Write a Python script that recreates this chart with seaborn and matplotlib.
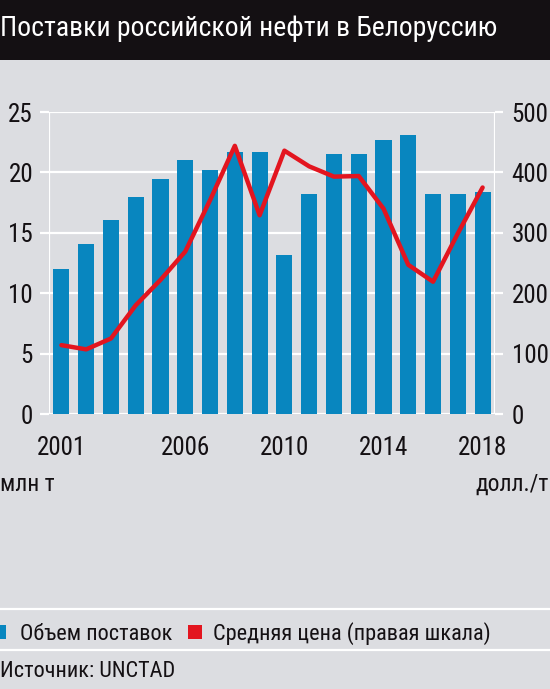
import matplotlib
matplotlib.use("Agg")
import matplotlib.pyplot as plt
import seaborn as sns
import numpy as np
import pandas as pd
from matplotlib import font_manager as fm

# ---- data ----
years = list(range(2001, 2019))
volume = [12.0, 14.1, 16.05, 17.95, 19.45, 21.05, 20.2, 21.7, 21.7, 13.15,
          18.25, 21.5, 21.5, 22.7, 23.1, 18.25, 18.25, 18.35]
price = [114, 107, 125, 180, 222, 269, 354, 444, 329, 436,
         410, 393, 394, 340, 247, 219, 299, 375]
shown_years = [2001, 2006, 2010, 2014, 2018]
left_ticks = [0, 5, 10, 15, 20, 25]
right_ticks = [0, 100, 200, 300, 400, 500]

title = "Поставки российской нефти в Белоруссию"
left_unit = "млн т"
right_unit = "долл./т"
legend_labels = ["Объем поставок", "Средняя цена (правая шкала)"]
source = "Источник: UNCTAD"

BG = "#dcdde1"
BLUE = "#0886bf"
RED = "#e3151f"
DARK = "#141013"

sns.set_theme(style="white")

# find a condensed font with Cyrillic support
prefs = ["robotocondensed-regular", "liberationsansnarrow-regular",
         "notosans-condensed.ttf", "notosans-condensed-regular", "dejavusanscondensed.ttf",
         "opensans_condensed-regular", "opensans-condensed"]
cands = {}
for f in fm.fontManager.ttflist:
    base = f.fname.replace("\\", "/").split("/")[-1].lower()
    cands.setdefault(base, f)
chosen = None
for p in prefs:
    for base, f in cands.items():
        if base.startswith(p):
            chosen = f
            break
    if chosen:
        break
if chosen is not None:
    fm.fontManager.addfont(chosen.fname)
    FP = fm.FontProperties(fname=chosen.fname)
    scale = 1.0
else:
    FP = fm.FontProperties(family="Roboto")
    scale = 0.85
plt.rcParams["font.family"] = [FP.get_name(), "DejaVu Sans"]


def fp(size):
    p = FP.copy()
    p.set_size(size * scale)
    return p


W, H = 550, 689
fig = plt.figure(figsize=(W / 100, H / 100), dpi=100, facecolor=BG)

L, R, B, T = 49, 495, 414, 112
ax = fig.add_axes([L / W, 1 - B / H, (R - L) / W, (B - T) / H])
ax.set_facecolor(BG)

df = pd.DataFrame({"year": [str(y) for y in years], "volume": volume, "price": price})

ax.set_ylim(0, 25)
ax.set_yticks(left_ticks)
for v in left_ticks:
    ax.axhline(v, color="white", lw=1.6, zorder=0.5)

sns.barplot(data=df, x="year", y="volume", color=BLUE, width=0.65,
            saturation=1, ax=ax, zorder=2, linewidth=0, edgecolor="none")
ax.set_xlim(-0.5, 17.5)

ax2 = ax.twinx()
ax2.set_ylim(0, 500)
ax2.set_yticks(right_ticks)
sns.pointplot(data=df, x="year", y="price", color=RED, ax=ax2,
              markers="", linestyles="-", lw=3.2)
ax2.set_xlim(-0.5, 17.5)
for a in (ax, ax2):
    a.set_xlabel("")
    a.set_ylabel("")
    for s in a.spines.values():
        s.set_visible(False)

# x ticks: labels at selected bars, white tick marks at boundaries
pos = [years.index(y) for y in shown_years]
ax.set_xticks(pos)
ax.set_xticklabels([str(y) for y in shown_years])
ax.set_xticks(np.arange(-0.5, 18, 1), minor=True)
ax.tick_params(axis="x", which="major", length=0, pad=16, labelcolor=DARK)
ax.tick_params(axis="x", which="minor", length=7, width=1.6, color="white", direction="out")
ax.tick_params(axis="y", length=6.5, width=1.6, color="white", pad=5, labelcolor=DARK, left=True)
ax2.tick_params(axis="y", length=6, width=1.6, color="white", pad=6, labelcolor=DARK, right=True)
ax2.tick_params(axis="x", which="both", length=0, labelbottom=False)
for lab in ax.get_xticklabels() + ax.get_yticklabels() + ax2.get_yticklabels():
    lab.set_fontproperties(fp(18))

# vertical white axis lines
ax.axvline(-0.5, color="white", lw=1.6, zorder=0.5)
ax.axvline(17.5, color="white", lw=1.6, zorder=0.5)
ax.set_zorder(1)
ax2.set_zorder(2)
ax2.patch.set_visible(False)

# title bar
fig.patches.append(plt.Rectangle((0, 1 - 60 / H), 1, 60 / H, transform=fig.transFigure,
                                 facecolor=DARK, edgecolor="none", zorder=0))
fig.text(0 / W, 1 - 36 / H, title, color="white", fontproperties=fp(20), va="baseline", ha="left")

fig.text(0 / W, 1 - 491 / H, left_unit, color=DARK, fontproperties=fp(17), va="baseline", ha="left")
fig.text(549 / W, 1 - 491 / H, right_unit, color=DARK, fontproperties=fp(17), va="baseline", ha="right")

# separator lines
for yy in (609, 650):
    fig.add_artist(plt.Line2D([0, 1], [1 - yy / H, 1 - yy / H], transform=fig.transFigure,
                              color="white", lw=1.6))

# legend
sq = 14
fig.patches.append(plt.Rectangle((-8 / W, 1 - 639 / H), sq / W, sq / H, transform=fig.transFigure,
                                 facecolor=BLUE, edgecolor="none"))
fig.text(20 / W, 1 - 640 / H, legend_labels[0], color=DARK, fontproperties=fp(16), va="baseline", ha="left")
fig.patches.append(plt.Rectangle((188 / W, 1 - 639 / H), sq / W, sq / H, transform=fig.transFigure,
                                 facecolor=RED, edgecolor="none"))
fig.text(213 / W, 1 - 640 / H, legend_labels[1], color=DARK, fontproperties=fp(16), va="baseline", ha="left")

fig.text(0 / W, 1 - 677 / H, source, color=DARK, fontproperties=fp(16), va="baseline", ha="left")

fig.savefig("out.png", dpi=100, facecolor=BG)
